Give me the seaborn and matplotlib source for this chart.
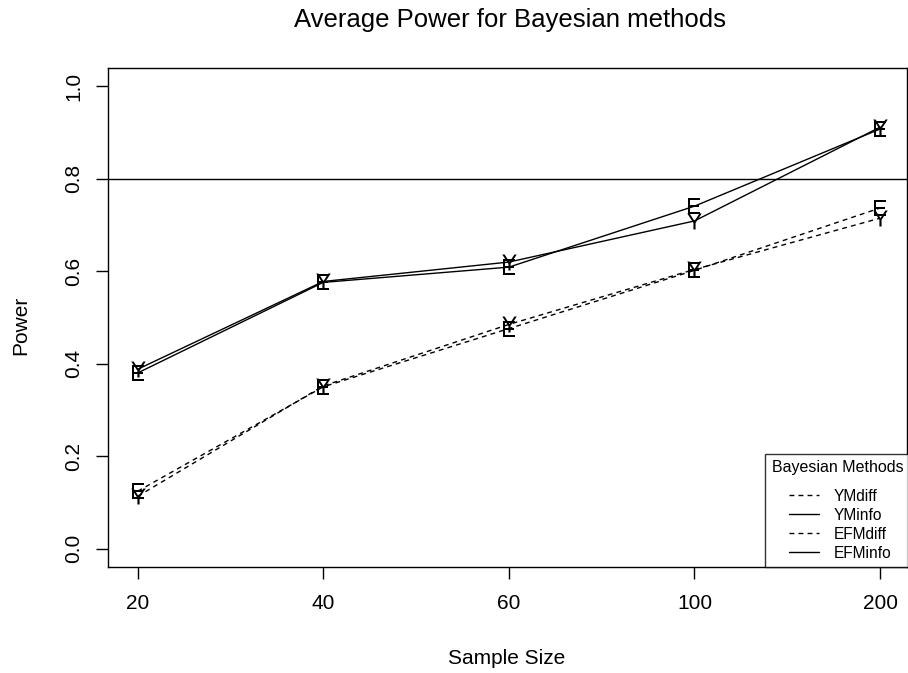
import matplotlib
matplotlib.use("Agg")
import matplotlib.pyplot as plt
import seaborn as sns
import pandas as pd
from matplotlib.lines import Line2D
from matplotlib.legend_handler import HandlerLine2D

sample_sizes = ["20", "40", "60", "100", "200"]
ym_diff = [0.113, 0.352, 0.485, 0.604, 0.715]
ym_info = [0.388, 0.578, 0.620, 0.709, 0.912]
efm_diff = [0.124, 0.350, 0.476, 0.602, 0.737]
efm_info = [0.380, 0.576, 0.609, 0.741, 0.908]
methods = ["YMdiff", "YMinfo", "EFMdiff", "EFMinfo"]
series = [ym_diff, ym_info, efm_diff, efm_info]
letters = ["Y", "Y", "E", "E"]
dashed = [True, False, True, False]

sns.set_style("white")
plt.rcParams["font.family"] = ["Liberation Sans", "DejaVu Sans"]
plt.rcParams["mathtext.fontset"] = "custom"
plt.rcParams["mathtext.rm"] = "Liberation Sans"
plt.rcParams["text.color"] = "black"
plt.rcParams["axes.labelcolor"] = "black"
plt.rcParams["xtick.color"] = "black"
plt.rcParams["ytick.color"] = "black"

fig = plt.figure(figsize=(9.08, 6.73), dpi=100)
W, H = 908, 673
left, right, top, bottom = 108, 907, 68, 567
ax = fig.add_axes([left / W, 1 - bottom / H, (right - left) / W, (bottom - top) / H])

DASH = (0, (3.5, 3))
positions = list(range(1, len(sample_sizes) + 1))
for name, vals, ch, dsh in zip(methods, series, letters, dashed):
    df = pd.DataFrame({"x": positions, "y": vals})
    sns.lineplot(data=df, x="x", y="y", ax=ax, color="black", lw=1.0,
                 linestyle=DASH if dsh else "-",
                 marker=r"$\mathrm{%s}$" % ch, markersize=11.5,
                 markeredgewidth=0.0, markerfacecolor="black",
                 markeredgecolor="black")

ax.axhline(0.8, color="black", lw=1.0)

ax.set_xlim(0.84, 5.145)
ax.set_ylim(-0.04, 1.04)
ax.set_xticks(positions)
ax.set_xticklabels(sample_sizes)
ax.set_yticks([0.0, 0.2, 0.4, 0.6, 0.8, 1.0])
ax.set_yticklabels(["0.0", "0.2", "0.4", "0.6", "0.8", "1.0"], rotation=90, va="center")
ax.tick_params(axis="both", direction="out", length=8.6, width=1, color="black",
               labelsize=15, left=True, bottom=True)
ax.tick_params(axis="x", pad=11)
ax.tick_params(axis="y", pad=9)
for s in ax.spines.values():
    s.set_color("black")
    s.set_linewidth(1.0)

ax.set_xlabel("Sample Size", fontsize=15)
ax.set_ylabel("Power", fontsize=15)
ax.xaxis.set_label_coords(507 / W, 1 - 658 / H, transform=fig.transFigure)
ax.yaxis.set_label_coords(21 / W, 1 - 325 / H, transform=fig.transFigure)
ax.xaxis.label.set_va("center")
ax.yaxis.label.set_va("center")
fig.text(510 / W, 1 - 20 / H, "Average Power for Bayesian methods",
         ha="center", va="center", fontsize=18.5)

# legend: handles indented beneath a left-aligned title
handles = [Line2D([0], [0], color="black", lw=1.0,
                  linestyle=DASH if d else "-") for d in dashed]
handler = HandlerLine2D(xpad=1.15)
leg = ax.legend(handles, methods, title="Bayesian Methods", loc="lower right",
                bbox_to_anchor=(1.003, 0.0), fontsize=11.2, title_fontsize=11.5,
                frameon=True, fancybox=False, handlelength=3.05,
                labelspacing=0.26, borderpad=0.4, handletextpad=0.96,
                borderaxespad=0, handler_map={Line2D: handler})
leg.set_alignment("left")
leg._legend_box.sep = 10
leg.get_frame().set_edgecolor("black")
leg.get_frame().set_linewidth(1.0)

fig.savefig("out.png", dpi=100)
